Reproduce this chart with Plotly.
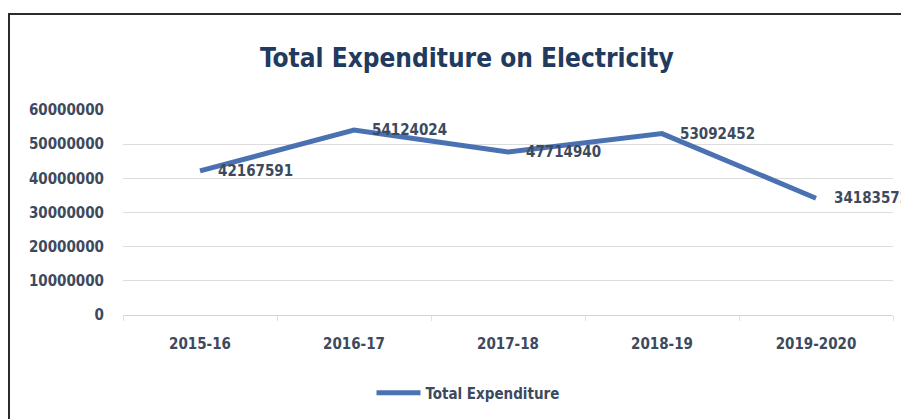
import plotly.graph_objects as go

years = ["2015-16", "2016-17", "2017-18", "2018-19", "2019-2020"]
total_expenditure = [42167591, 54124024, 47714940, 53092452, 34183572]
y_ticks = [0, 10000000, 20000000, 30000000, 40000000, 50000000, 60000000]

FONT = "DejaVu Sans Condensed"
TEXT_COL = "#3d4a5e"
LINE_COL = "#4a72b2"

fig = go.Figure()
fig.add_trace(go.Scatter(
    x=years, y=total_expenditure, mode="lines",
    name="<b>Total Expenditure</b>",
    line=dict(color=LINE_COL, width=5),
))

for x, y in zip(years, total_expenditure):
    fig.add_annotation(
        x=x, y=y, text=f"<b>{y}</b>", showarrow=False,
        xanchor="left", yanchor="middle", xshift=16,
        font=dict(family=FONT, size=15, color=TEXT_COL),
    )

fig.add_annotation(
    xref="paper", yref="paper", x=(467 - 123) / 770, y=1 + (110 - 58) / 205,
    text="<b>Total Expenditure on Electricity</b>", showarrow=False,
    xanchor="center", yanchor="middle",
    font=dict(family=FONT, size=26, color="#213a5e"),
)

fig.add_shape(
    type="rect", xref="paper", yref="paper",
    x0=(9 - 123) / 770, x1=1.2, y0=-1.0, y1=1 + (110 - 14) / 205,
    line=dict(color="#2b2b2b", width=2), fillcolor="rgba(0,0,0,0)", layer="below",
)

fig.update_layout(
    width=901, height=419,
    margin=dict(l=123, r=8, t=110, b=104),
    paper_bgcolor="white", plot_bgcolor="white",
    showlegend=True,
    legend=dict(
        orientation="h", x=(468 - 123) / 770, xanchor="center",
        y=-(393 - 315) / 205, yanchor="middle",
        font=dict(family=FONT, size=15, color=TEXT_COL),
        itemwidth=44,
    ),
    font=dict(family=FONT, size=15, color=TEXT_COL),
)

fig.update_xaxes(
    type="category", range=[-0.5, 4.5],
    showgrid=False, showline=False, zeroline=False,
    ticks="outside", tickson="boundaries", ticklen=5, tickcolor="#e2e2e2",
    ticklabelstandoff=18,
    tickfont=dict(family=FONT, size=15, color=TEXT_COL, weight="bold"),
)
fig.update_yaxes(
    range=[0, 60000000], tickvals=y_ticks,
    ticktext=[str(v) for v in y_ticks],
    showgrid=True, gridcolor="#dcdcdc", gridwidth=1,
    zeroline=True, zerolinecolor="#d4d4d4", zerolinewidth=1,
    showline=False, ticks="", ticklabelstandoff=18,
    tickfont=dict(family=FONT, size=15, color=TEXT_COL, weight="bold"),
)

fig.write_html("out.html")
